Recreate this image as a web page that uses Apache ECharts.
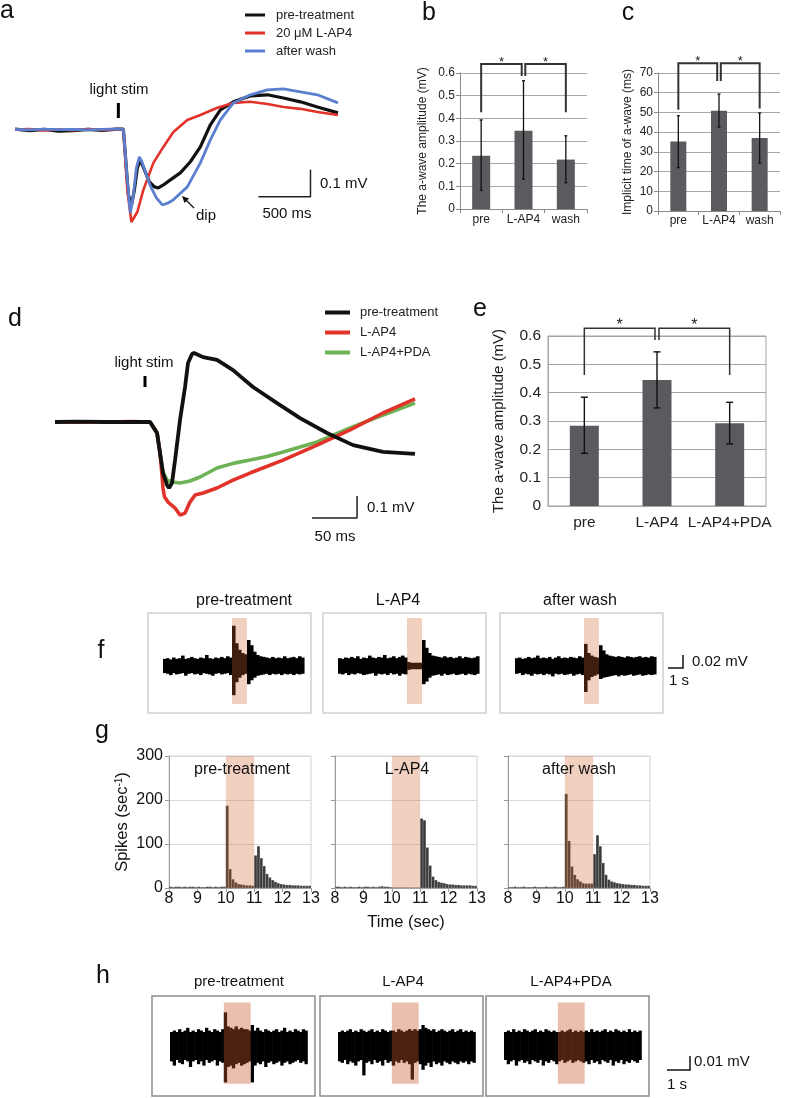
<!DOCTYPE html>
<html>
<head>
<meta charset="utf-8">
<title>Figure</title>
<script src="https://cdn.jsdelivr.net/npm/echarts@6.0.0/dist/echarts.min.js"></script>
<style>
html,body{margin:0;padding:0;background:#fff;}
#chart{width:787px;height:1098px;}
</style>
</head>
<body>
<div id="chart"></div>
<script>
const FONT = '"Liberation Sans", Arial, Helvetica, sans-serif';

// ===== Panel a: ERG traces (time in ms from light onset, amplitude in mV) =====
const aPre = [[-1040,0.003],[-900,-0.003],[-760,0.002],[-620,-0.005],[-480,-0.003],[-340,0.002],[-200,-0.002],[-60,0.003],[0,0.003],[48,-0.239],[77,-0.281],[106,-0.222],[134,-0.141],[163,-0.111],[202,-0.148],[250,-0.193],[298,-0.211],[336,-0.215],[384,-0.204],[451,-0.185],[547,-0.159],[643,-0.118],[739,-0.063],[835,0.019],[931,0.074],[1056,0.104],[1219,0.126],[1382,0.13],[1536,0.118],[1699,0.104],[1862,0.085],[2060,0.063]];
const aLap4 = [[-1040,0.001],[-900,0.003],[-760,-0.002],[-620,0.002],[-480,-0.001],[-340,0.003],[-200,0],[-60,0.003],[0,0.002],[38,-0.222],[77,-0.341],[96,-0.344],[134,-0.304],[192,-0.222],[288,-0.122],[384,-0.063],[480,-0.008],[614,0.037],[739,0.055],[902,0.082],[1056,0.1],[1219,0.104],[1382,0.096],[1536,0.085],[1699,0.078],[1862,0.066],[2060,0.055]];
const aWash = [[-1040,0.002],[-900,0],[-760,0.003],[-620,0.001],[-480,0.002],[-340,0],[-200,0.002],[-60,0.004],[0,0.002],[38,-0.185],[67,-0.308],[96,-0.241],[125,-0.141],[154,-0.1],[182,-0.122],[221,-0.167],[259,-0.207],[317,-0.252],[374,-0.278],[432,-0.27],[480,-0.259],[614,-0.211],[739,-0.122],[835,-0.037],[931,0.037],[1056,0.1],[1219,0.13],[1382,0.148],[1536,0.152],[1699,0.141],[1862,0.13],[2060,0.1]];
const aNames = ['pre-treatment', '20 μM L-AP4', 'after wash'];
const aStimMs = -48;
const aScale = {ms: 500, mV: 0.1};

// ===== Panel b: a-wave amplitude (mV) =====
const bCats = ['pre', 'L-AP4', 'wash'];
const bMeans = [0.235, 0.345, 0.218];
const bErrLow = [0.082, 0.131, 0.116];
const bErrHigh = [0.393, 0.566, 0.323];

// ===== Panel c: implicit time of a-wave (ms) =====
const cCats = ['pre', 'L-AP4', 'wash'];
const cMeans = [35.2, 50.8, 37.0];
const cErrLow = [22.0, 42.6, 24.3];
const cErrHigh = [48.3, 59.3, 49.7];

// ===== Panel d: ERG traces (time ms, amplitude mV) =====
const dPre = [[-105.6,0],[-80,0.002],[-50,0],[-20,0.001],[0,0],[2.2,0],[7.8,-0.05],[11.1,-0.141],[14.4,-0.232],[18.9,-0.286],[21.1,-0.3],[24.4,-0.277],[27.8,-0.173],[33.3,0.009],[38.9,0.159],[42.2,0.268],[46.7,0.309],[49,0.314],[51.1,0.305],[58.9,0.295],[74.4,0.282],[92.2,0.236],[114.4,0.159],[141.1,0.086],[166.7,0.018],[196.7,-0.05],[225.6,-0.105],[258.9,-0.136],[294.4,-0.145]];
const dLap4 = [[-105.6,0],[-80,0.001],[-50,0],[-20,0.002],[0,0],[2.2,0],[7.8,-0.05],[11.1,-0.141],[13.3,-0.241],[14.4,-0.3],[16,-0.34],[20,-0.364],[27.8,-0.391],[33.3,-0.423],[38.9,-0.414],[44.4,-0.364],[50,-0.332],[58.9,-0.323],[74.4,-0.3],[92.2,-0.264],[111.1,-0.232],[147.8,-0.173],[185.6,-0.105],[222.2,-0.036],[258.9,0.041],[294.4,0.105]];
const dPda = [[-105.6,0],[-80,0.001],[-50,0],[-20,0.001],[0,0],[2.2,0],[7.8,-0.05],[11.1,-0.141],[14.4,-0.227],[18.9,-0.264],[24.4,-0.273],[33.3,-0.277],[44.4,-0.268],[55.6,-0.25],[74.4,-0.209],[92.2,-0.188],[111.1,-0.173],[130,-0.157],[147.8,-0.136],[185.6,-0.091],[222.2,-0.027],[258.9,0.032],[294.4,0.086]];
const dNames = ['pre-treatment', 'L-AP4', 'L-AP4+PDA'];
const dStimMs = -5.6;
const dScale = {ms: 50, mV: 0.1};

// ===== Panel e: a-wave amplitude (mV) =====
const eCats = ['pre', 'L-AP4', 'L-AP4+PDA'];
const eMeans = [0.283, 0.445, 0.292];
const eErrLow = [0.186, 0.346, 0.219];
const eErrHigh = [0.384, 0.544, 0.366];

// ===== Panel f: spike recordings, envelope per 0.2 s bin (µV), from 5.4 s =====
const fTitles = ['pre-treatment', 'L-AP4', 'after wash'];
const fStart = 5.4, fBin = 0.2;
const fPreHi = [11,12,10,13,11,12,16,11,12,14,12,11,13,12,17,12,11,13,12,14,12,15,13, 62,35,25,20,18, 40,32,22,17,15,14,13,12,14,12,13,12,15,12,13,14,12,15,13];
const fPreLo = [-11,-12,-14,-11,-13,-12,-11,-15,-12,-11,-13,-12,-14,-11,-12,-13,-15,-12,-11,-13,-12,-11,-14, -45,-25,-18,-14,-12, -28,-22,-18,-15,-14,-13,-12,-14,-12,-13,-12,-14,-12,-13,-12,-14,-12,-13,-12];
const fLapHi = [12,11,13,12,14,12,15,11,13,12,16,13,12,14,13,17,12,13,15,12,14,16,13, 6,5,5,5,5, 40,28,20,16,15,14,13,15,13,14,12,13,15,12,14,13,12,13,15];
const fLapLo = [-12,-13,-11,-14,-12,-13,-11,-12,-14,-13,-12,-11,-15,-12,-13,-12,-14,-11,-13,-12,-15,-12,-13, -6,-5,-5,-5,-5, -28,-24,-18,-15,-14,-13,-15,-12,-14,-13,-12,-14,-13,-12,-14,-12,-13,-14,-12];
const fWashHi = [12,13,11,12,14,12,13,16,12,13,12,14,11,13,15,12,13,12,14,13,12,15,13, 34,20,16,14,13, 32,24,18,16,15,14,15,14,13,15,14,13,14,15,13,14,13,15,14];
const fWashLo = [-12,-11,-14,-12,-13,-15,-12,-13,-12,-14,-12,-13,-16,-12,-13,-12,-14,-13,-12,-15,-13,-12,-14, -40,-22,-17,-15,-13, -20,-18,-17,-16,-15,-14,-16,-14,-15,-14,-13,-15,-14,-13,-15,-14,-13,-14,-13];
const stimWindow = [10, 11];

// ===== Panel g: spike rate histograms, 0.1 s bins from 8.0 s (spikes/sec) =====
const gTitles = ['pre-treatment', 'L-AP4', 'after wash'];
const gStart = 8.0, gBin = 0.1;
const gTicks = [8, 9, 10, 11, 12, 13];
const gPre = [3,2,3,3,2,3,2,3,3,2,3,2,2,3,3,2,3,2,3,3, 187,43,20,13,9,8,7,6,6,5, 74,95,68,50,32,24,18,14,11,9, 8,7,7,6,6,6,5,5,5,5];
const gLap4 = [3,3,2,3,2,3,2,2,3,2,3,3,2,3,2,3,4,3,3,2, 1,1,1,1,1,1,1,1,1,1, 158,154,92,51,26,18,14,12,11,9, 8,8,7,7,6,6,6,6,5,5];
const gWash = [2,2,3,2,2,3,2,2,2,3,2,2,2,3,2,2,3,2,2,3, 214,107,49,30,20,15,11,10,10,10, 77,120,95,57,30,19,15,13,11,10, 9,8,8,7,7,6,6,5,5,5];

// ===== Panel h: spike recordings, envelope per 0.1 s bin (µV), from 8.0 s =====
const hTitles = ['pre-treatment', 'L-AP4', 'L-AP4+PDA'];
const hStart = 8.0, hBin = 0.1;
const hPreHi = [10,11,10,12,10,11,13,10,11,10,12,11,10,13,11,10,12,11,10,12, 24,14,13,12,14,12,13,12,12,11, 15,11,13,11,10,12,11,10,11,12,10,11,13,10,11,10,12,11,10,12,11];
const hPreLo = [-11,-14,-10,-12,-13,-10,-11,-15,-11,-10,-13,-11,-14,-10,-12,-11,-10,-14,-11,-12, -26,-15,-14,-16,-13,-12,-14,-13,-12,-11, -26,-14,-12,-13,-11,-15,-12,-11,-13,-12,-11,-14,-12,-11,-13,-12,-11,-10,-12,-11,-13];
const hLapHi = [10,11,10,11,12,10,11,10,12,11,10,11,12,10,11,10,12,11,10,11, 11,10,12,11,10,11,12,11,12,11, 12,15,13,12,11,12,10,11,12,11,10,11,12,10,11,12,10,11,10,11,10];
const hLapLo = [-11,-12,-10,-13,-11,-12,-14,-11,-10,-21,-12,-11,-13,-10,-12,-11,-14,-10,-12,-11, -14,-11,-12,-10,-12,-11,-13,-24,-12,-11, -13,-17,-14,-12,-15,-11,-13,-12,-14,-11,-12,-13,-11,-12,-13,-11,-12,-11,-13,-11,-12];
const hPdaHi = [10,11,10,12,10,11,10,12,11,10,11,12,10,11,10,12,11,10,11,10, 10,11,10,11,12,10,11,10,11,10, 11,10,12,10,11,10,11,12,10,11,10,12,11,10,11,10,12,10,11,10,11];
const hPdaLo = [-10,-13,-11,-10,-14,-11,-10,-12,-11,-13,-10,-11,-12,-10,-14,-11,-12,-10,-11,-13, -11,-10,-12,-11,-10,-12,-11,-10,-11,-12, -11,-13,-10,-12,-11,-13,-10,-11,-12,-10,-14,-11,-12,-10,-13,-11,-12,-10,-11,-12,-10];

// ---------------- styles ----------------
const BLACK = '#111111', RED = '#e2332a', BLUE = '#5b7fcf', GREEN = '#6db356';
const BAR = '#5b5b5f';
const STIM_FILL = 'rgba(213,100,47,0.30)';
const STIM_FILL_H = 'rgba(200,88,42,0.38)';

const grids = [], xAxes = [], yAxes = [], series = [];
function addGrid(g, x, y) { grids.push(g); x.gridIndex = grids.length - 1; y.gridIndex = grids.length - 1; xAxes.push(x); yAxes.push(y); return grids.length - 1; }
const hidden = (min, max) => ({type: 'value', min, max, show: false});

// ---- a ----
const GA = addGrid({left: 15, top: 84, width: 323, height: 145}, hidden(-1040, 2060), hidden(-0.367, 0.17));
function traceLine(gi, name, data, color, w, z) {
  return {type: 'line', name, xAxisIndex: gi, yAxisIndex: gi, data, showSymbol: false, symbol: 'none',
    lineStyle: {color, width: w}, itemStyle: {color}, z, silent: true, clip: false};
}
series.push(traceLine(GA, aNames[0], aPre, BLACK, 3.2, 2));
series.push(traceLine(GA, aNames[1], aLap4, RED, 2.6, 3));
series.push(traceLine(GA, aNames[2], aWash, BLUE, 2.8, 4));
series.push({type: 'line', xAxisIndex: GA, yAxisIndex: GA, data: [[aStimMs, 0.044], [aStimMs, 0.1]], showSymbol: false, lineStyle: {color: '#000', width: 3}, silent: true});
series.push({type: 'line', xAxisIndex: GA, yAxisIndex: GA, data: [[1296, -0.248], [1296 + aScale.ms, -0.248], [1296 + aScale.ms, -0.248 + aScale.mV]], showSymbol: false, lineStyle: {color: '#222', width: 1.5}, silent: true});

// ---- bar chart helpers ----
function catAxis(cats, o) {
  return {type: 'category', data: cats, axisLine: {lineStyle: {color: o.axisColor}},
    axisTick: {show: o.ticks, length: 4, lineStyle: {color: o.axisColor}},
    axisLabel: {interval: 0, fontSize: o.fs, color: '#222', margin: o.margin, fontFamily: FONT}};
}
function valAxis(min, max, interval, o) {
  return {type: 'value', min, max, interval,
    axisLine: {show: true, lineStyle: {color: o.axisColor}},
    axisTick: {show: o.ticks, length: 4, lineStyle: {color: o.axisColor}},
    splitLine: {lineStyle: {color: o.gridColor, width: 1}},
    axisLabel: {fontSize: o.fs, color: '#222', margin: o.margin, fontFamily: FONT},
    name: o.name, nameLocation: 'middle', nameRotate: 90, nameGap: o.nameGap,
    nameTextStyle: {fontSize: o.nameFs, color: '#222', fontFamily: FONT}};
}
function errSeries(gi, lows, highs, cap, lw) {
  return {type: 'custom', xAxisIndex: gi, yAxisIndex: gi, z: 5, silent: true,
    data: lows.map((l, i) => [i, l, highs[i]]),
    renderItem: (p, api) => {
      const lo = api.coord([api.value(0), api.value(1)]);
      const hi = api.coord([api.value(0), api.value(2)]);
      const st = {stroke: '#111', lineWidth: lw};
      return {type: 'group', children: [
        {type: 'line', shape: {x1: lo[0], y1: lo[1], x2: hi[0], y2: hi[1]}, style: st},
        {type: 'line', shape: {x1: lo[0] - cap, y1: lo[1], x2: lo[0] + cap, y2: lo[1]}, style: st},
        {type: 'line', shape: {x1: hi[0] - cap, y1: hi[1], x2: hi[0] + cap, y2: hi[1]}, style: st}
      ]};
    }};
}
// bracket: [outer category, outer arm bottom, middle category, middle arm bottom]
function bracketSeries(gi, brs, top, o) {
  return {type: 'custom', xAxisIndex: gi, yAxisIndex: gi, z: 6, silent: true, clip: false,
    data: brs,
    renderItem: (p, api) => {
      const oi = api.value(0), mi = api.value(2);
      const p1 = api.coord([oi, api.value(1)]), p2 = api.coord([oi, top]);
      const p3 = api.coord([mi, top]), p4 = api.coord([mi, api.value(3)]);
      const off = oi < mi ? -o.gap : o.gap;
      const pts = [p1, p2, [p3[0] + off, p3[1]], [p4[0] + off, p4[1]]];
      return {type: 'group', children: [
        {type: 'polyline', shape: {points: pts}, style: {stroke: o.color, lineWidth: o.lw, fill: null}},
        {type: 'text', style: {x: (p2[0] + p3[0] + off) / 2, y: p2[1] - o.starDy, text: '*', fontSize: o.starFs, fontFamily: FONT,
          textAlign: 'center', textVerticalAlign: 'middle', align: 'center', verticalAlign: 'middle', fill: '#222'}}
      ]};
    }};
}

// ---- b ----
const GB = addGrid({left: 460, top: 73, width: 127, height: 136},
  catAxis(bCats, {axisColor: '#8a8a8a', ticks: true, fs: 12, margin: 5}),
  valAxis(0, 0.6, 0.1, {axisColor: '#8a8a8a', ticks: true, gridColor: '#a8a8a8', fs: 12, margin: 5, name: 'The a-wave amplitude (mV)', nameGap: 31, nameFs: 12}));
series.push({type: 'bar', xAxisIndex: GB, yAxisIndex: GB, data: bMeans, barWidth: 18, itemStyle: {color: BAR}, silent: true});
series.push(errSeries(GB, bErrLow, bErrHigh, 1.5, 1.3));
series.push(bracketSeries(GB, [[0, 0.427, 1, 0.587], [2, 0.427, 1, 0.587]], 0.64, {gap: 1.8, color: '#333', lw: 2, starDy: 2, starFs: 13}));

// ---- c ----
const GC = addGrid({left: 658, top: 73, width: 122, height: 138},
  catAxis(cCats, {axisColor: '#8a8a8a', ticks: true, fs: 12, margin: 4}),
  valAxis(0, 70, 10, {axisColor: '#8a8a8a', ticks: true, gridColor: '#a8a8a8', fs: 12, margin: 5, name: 'Implicit time of a-wave (ms)', nameGap: 24, nameFs: 12}));
series.push({type: 'bar', xAxisIndex: GC, yAxisIndex: GC, data: cMeans, barWidth: 16, itemStyle: {color: BAR}, silent: true});
series.push(errSeries(GC, cErrLow, cErrHigh, 1.5, 1.3));
series.push(bracketSeries(GC, [[0, 51.3, 1, 66], [2, 52, 1, 66]], 75, {gap: 1.8, color: '#333', lw: 2, starDy: 2, starFs: 13}));

// ---- d ----
const GD = addGrid({left: 55, top: 340.6, width: 360, height: 184.8}, hidden(-105.6, 294.4), hidden(-0.47, 0.37));
series.push(traceLine(GD, dNames[2], dPda, GREEN, 3.6, 2));
series.push(traceLine(GD, dNames[1], dLap4, RED, 3.6, 3));
series.push(traceLine(GD, dNames[0] + ' ', dPre, BLACK, 3.8, 4));
series.push({type: 'line', xAxisIndex: GD, yAxisIndex: GD, data: [[dStimMs, 0.159], [dStimMs, 0.209]], showSymbol: false, lineStyle: {color: '#000', width: 3}, silent: true});
series.push({type: 'line', xAxisIndex: GD, yAxisIndex: GD, data: [[180, -0.436], [180 + dScale.ms, -0.436], [180 + dScale.ms, -0.436 + dScale.mV]], showSymbol: false, lineStyle: {color: '#222', width: 1.5}, silent: true});

// ---- e ----
const GE = addGrid({left: 548, top: 336, width: 218, height: 170, show: true, borderColor: '#a5a5a5', borderWidth: 1},
  catAxis(eCats, {axisColor: '#a5a5a5', ticks: false, fs: 15.5, margin: 9}),
  valAxis(0, 0.6, 0.1, {axisColor: '#a5a5a5', ticks: false, gridColor: '#a5a5a5', fs: 15.5, margin: 7, name: 'The a-wave amplitude (mV)', nameGap: 42, nameFs: 15}));
series.push({type: 'bar', xAxisIndex: GE, yAxisIndex: GE, data: eMeans, barWidth: 29, itemStyle: {color: BAR}, silent: true});
series.push(errSeries(GE, eErrLow, eErrHigh, 3.5, 1.4));
series.push(bracketSeries(GE, [[0, 0.462, 1, 0.586], [2, 0.462, 1, 0.586]], 0.627, {gap: 2, color: '#333', lw: 1.5, starDy: 3, starFs: 16}));

// ---- band (noisy trace) + stimulus window helpers ----
function bandSeries(gi, t0, dt, hi, lo) {
  return {type: 'custom', xAxisIndex: gi, yAxisIndex: gi, z: 3, silent: true,
    data: hi.map((h, i) => [t0 + i * dt, lo[i], h]),
    renderItem: (p, api) => {
      const a = api.coord([api.value(0), api.value(2)]);
      const b = api.coord([api.value(0) + dt, api.value(1)]);
      return {type: 'rect', shape: {x: a[0], y: a[1], width: b[0] - a[0] + 0.6, height: b[1] - a[1]}, style: {fill: '#000'}};
    }};
}
function stimSeries(gi, win, yLo, yHi, fill) {
  return {type: 'custom', xAxisIndex: gi, yAxisIndex: gi, z: 10, silent: true,
    data: [[win[0], win[1]]],
    renderItem: (p, api) => {
      const a = api.coord([api.value(0), yHi]);
      const b = api.coord([api.value(1), yLo]);
      return {type: 'rect', shape: {x: a[0], y: a[1], width: b[0] - a[0], height: b[1] - a[1]}, style: {fill}};
    }};
}

// ---- f ----
const fLefts = [148, 323, 500];
const fData = [[fPreHi, fPreLo], [fLapHi, fLapLo], [fWashHi, fWashLo]];
fLefts.forEach((L, k) => {
  const gi = addGrid({left: L, top: 613, width: 163, height: 100, show: true, borderColor: '#cfcfcf', borderWidth: 1.5},
    hidden(4.4, 15.27), hidden(-72.4, 81.6));
  series.push(bandSeries(gi, fStart, fBin, fData[k][0], fData[k][1]));
  series.push(stimSeries(gi, stimWindow, -58.5, 74, STIM_FILL));
});

// ---- g ----
const gLefts = [169, 335, 508];
const gData = [gPre, gLap4, gWash];
gLefts.forEach((L, k) => {
  const xa = {type: 'value', min: gTicks[0], max: gTicks[gTicks.length - 1], interval: 1,
    axisLine: {lineStyle: {color: '#9a9a9a'}}, axisTick: {show: true, length: 4, lineStyle: {color: '#9a9a9a'}},
    splitLine: {show: false}, axisLabel: {fontSize: 16, color: '#111', margin: 3, fontFamily: FONT}};
  if (k === 1) Object.assign(xa, {name: 'Time (sec)', nameLocation: 'middle', nameGap: 26, nameTextStyle: {fontSize: 16.5, color: '#111', fontFamily: FONT}});
  const ya = {type: 'value', min: 0, max: 300, interval: 100,
    axisLine: {show: true, lineStyle: {color: '#9a9a9a'}}, axisTick: {show: true, length: 4, lineStyle: {color: '#9a9a9a'}},
    splitLine: {lineStyle: {color: '#d9d9d9'}},
    axisLabel: {show: k === 0, fontSize: 16, color: '#111', margin: 6, fontFamily: FONT}};
  if (k === 0) Object.assign(ya, {name: 'Spikes (sec{sup|-1})', nameLocation: 'middle', nameRotate: 90, nameGap: 35,
    nameTextStyle: {fontSize: 16.5, color: '#111', fontFamily: FONT, rich: {sup: {fontSize: 10, color: '#111', fontFamily: FONT, verticalAlign: 'top', lineHeight: 10, padding: [0, 0, 8, 0]}}}});
  const gi = addGrid({left: L, top: 756, width: 142, height: 132, show: true, borderColor: '#d3d3d3', borderWidth: 1}, xa, ya);
  series.push({type: 'custom', xAxisIndex: gi, yAxisIndex: gi, z: 3, silent: true,
    data: gData[k].map((v, i) => [gStart + i * gBin, v]),
    renderItem: (p, api) => {
      const a = api.coord([api.value(0), api.value(1)]);
      const b = api.coord([api.value(0) + gBin, 0]);
      return {type: 'rect', shape: {x: a[0], y: a[1], width: b[0] - a[0], height: b[1] - a[1]},
        style: {fill: '#3a3a3a', stroke: 'rgba(255,255,255,0.35)', lineWidth: 0.5}};
    }});
  series.push(stimSeries(gi, stimWindow, 0, 300, STIM_FILL));
});

// ---- h ----
const hLefts = [152, 320, 486];
const hData = [[hPreHi, hPreLo], [hLapHi, hLapLo], [hPdaHi, hPdaLo]];
hLefts.forEach((L, k) => {
  const gi = addGrid({left: L, top: 996, width: 163, height: 100, show: true, borderColor: '#8c8c8c', borderWidth: 1.5},
    hidden(7.33, 13.39), hidden(-35.7, 35.7));
  series.push(bandSeries(gi, hStart, hBin, hData[k][0], hData[k][1]));
  series.push(stimSeries(gi, stimWindow, -27, 31, STIM_FILL_H));
});

// ---------------- text annotations ----------------
function T(text, x, y, fs, align) {
  return {type: 'text', z: 50, silent: true, style: {text, x, y, fill: '#111', font: fs + 'px ' + FONT,
    textAlign: align || 'center', textVerticalAlign: 'middle', align: align || 'center', verticalAlign: 'middle'}};
}
function P(points, w) {
  return {type: 'polyline', z: 50, silent: true, shape: {points}, style: {stroke: '#111', lineWidth: w || 1.5, fill: null}};
}
const graphic = [
  T('a', 7, 11, 25), T('b', 429, 13, 25), T('c', 628, 13, 25), T('d', 15, 319, 25), T('e', 480, 309, 25),
  T('f', 101, 651, 25), T('g', 102, 731, 25), T('h', 103, 976, 25),
  T('light stim', 119, 90, 15), T('0.1 mV', 320, 184, 15, 'left'), T('500 ms', 287, 214, 15), T('dip', 206, 216, 15),
  P([[194, 208], [184, 198]], 1.2),
  {type: 'polygon', z: 50, silent: true, shape: {points: [[182, 196], [189, 198.5], [184.5, 203]]}, style: {fill: '#111'}},
  T('light stim', 144, 363, 15), T('0.1 mV', 367, 508, 15, 'left'), T('50 ms', 335, 537, 15),
  T(fTitles[0], 244, 601, 16), T(fTitles[1], 398, 601, 16), T(fTitles[2], 580, 601, 16),
  T(gTitles[0], 242, 770, 16), T(gTitles[1], 407, 770, 16), T(gTitles[2], 579, 770, 16),
  T(hTitles[0], 239, 982, 15), T(hTitles[1], 403, 982, 15), T(hTitles[2], 571, 982, 15),
  P([[668, 668], [683, 668], [683, 655]], 1.5), T('0.02 mV', 692, 662, 15, 'left'), T('1 s', 669, 681, 15, 'left'),
  P([[667, 1070], [690, 1070], [690, 1056]], 1.5), T('0.01 mV', 694, 1062, 15, 'left'), T('1 s', 667, 1085, 15, 'left')
];

const option = {
  animation: false,
  backgroundColor: '#ffffff',
  textStyle: {fontFamily: FONT},
  legend: [
    {data: aNames, orient: 'vertical', left: 245, top: 7.5, itemWidth: 20, itemHeight: 3, itemGap: 3, icon: 'rect', padding: 0,
      selectedMode: false, textStyle: {fontSize: 13, color: '#222', lineHeight: 15, padding: [0, 0, 0, 6], fontFamily: FONT}},
    {data: [dNames[0] + ' ', dNames[1], dNames[2]], orient: 'vertical', left: 325, top: 305, itemWidth: 25, itemHeight: 4, itemGap: 5, icon: 'rect', padding: 0,
      selectedMode: false, formatter: n => n.trim(), textStyle: {fontSize: 13, color: '#222', lineHeight: 15, padding: [0, 0, 0, 5], fontFamily: FONT}}
  ],
  grid: grids, xAxis: xAxes, yAxis: yAxes, series, graphic
};
const chart = echarts.init(document.getElementById('chart'), null, {renderer: 'canvas'});
chart.setOption(option);
</script>
</body>
</html>
